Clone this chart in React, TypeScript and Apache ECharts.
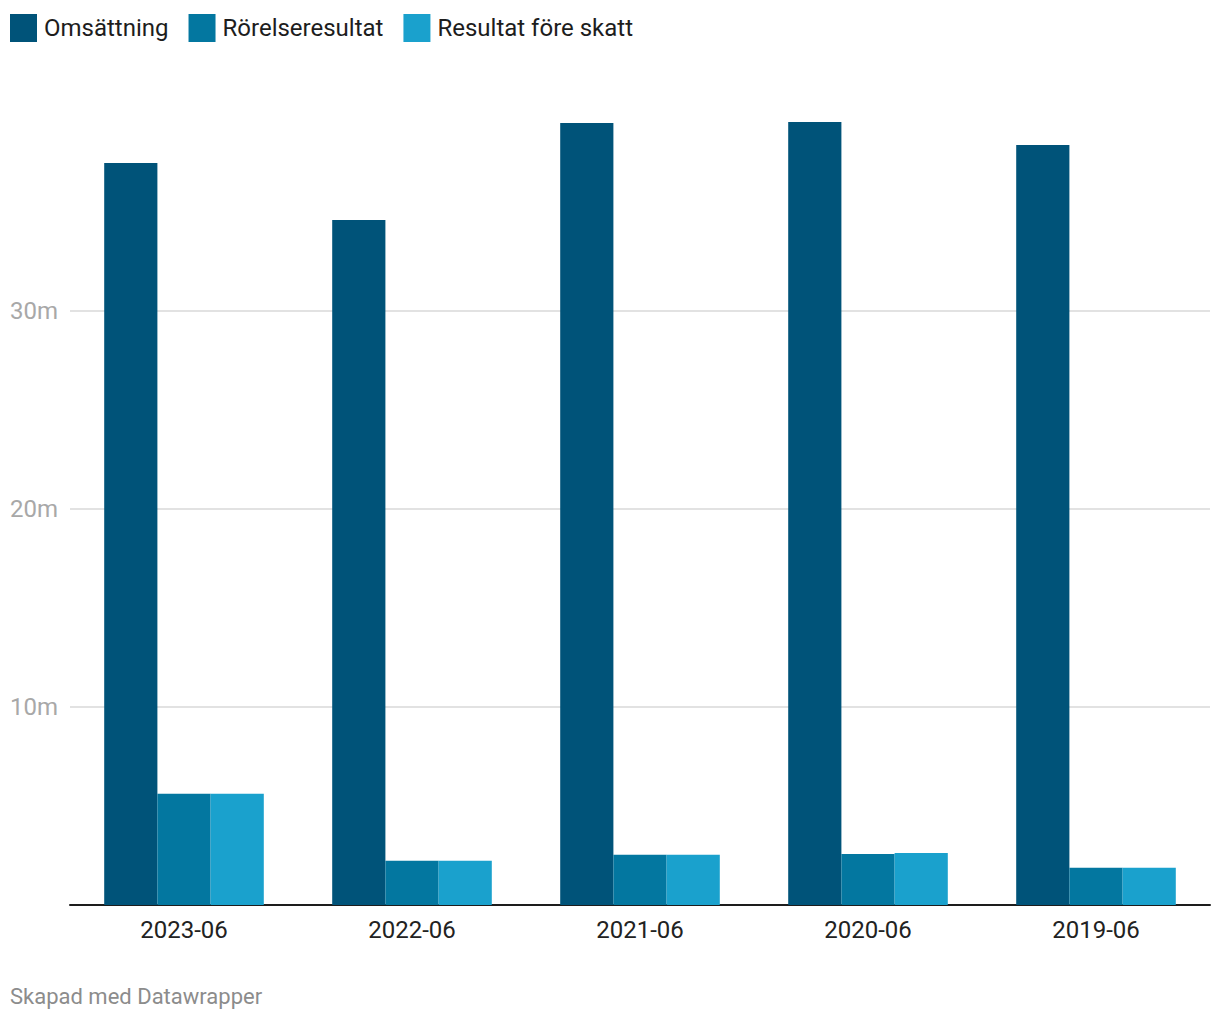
import React, { useEffect, useRef } from "react";
import * as echarts from "echarts";

const categories = ["2023-06", "2022-06", "2021-06", "2020-06", "2019-06"];
const omsattning = [37.47, 34.6, 39.49, 39.55, 38.38];
const rorelseresultat = [5.62, 2.24, 2.54, 2.58, 1.88];
const resultatForeSkatt = [5.62, 2.24, 2.54, 2.63, 1.88];
const seriesNames = ["Omsättning", "Rörelseresultat", "Resultat före skatt"];
const colors = ["#005379", "#0377a0", "#1aa1cd"];

const FONT = "Roboto, 'Noto Sans', sans-serif";

export default function App() {
  const ref = useRef<HTMLDivElement>(null);
  useEffect(() => {
    document.body.style.margin = "0";
    const chart = echarts.init(ref.current!, null, { renderer: "svg" });
    const values = [omsattning, rorelseresultat, resultatForeSkatt];
    chart.setOption({
      animation: false,
      textStyle: { fontFamily: FONT },
      legend: {
        left: 5,
        top: 9,
        itemWidth: 27,
        itemHeight: 28,
        itemGap: 20,
        icon: "rect",
        selectedMode: false,
        textStyle: { fontSize: 24, color: "#1d1d1d", fontFamily: FONT, padding: [0, 0, 0, 2] },
        data: seriesNames,
      },
      grid: { left: 70, right: 10, top: 113, bottom: 115 },
      xAxis: {
        type: "category",
        data: categories,
        axisLine: { show: true, lineStyle: { color: "#1d1d1d", width: 2 } },
        axisTick: { show: false },
        axisLabel: { fontSize: 24, color: "#222222", margin: 13, fontFamily: FONT },
      },
      yAxis: {
        type: "value",
        min: 0,
        max: 40,
        interval: 10,
        axisLine: { show: false },
        axisTick: { show: false },
        axisLabel: {
          showMinLabel: false,
          showMaxLabel: false,
          fontSize: 24,
          color: "#a8a8a8",
          margin: 12,
          fontFamily: FONT,
          formatter: (v: number) => `${v}m`,
        },
        splitLine: {
          show: true,
          lineStyle: {
            color: ["rgba(0,0,0,0)", "#e2e2e2", "#e2e2e2", "#e2e2e2", "rgba(0,0,0,0)"],
            width: 2,
          },
        },
      },
      series: seriesNames.map((name, i) => ({
        name,
        type: "bar",
        data: values[i],
        barGap: "0%",
        barCategoryGap: "30%",
        itemStyle: { color: colors[i] },
      })),
      graphic: [
        {
          type: "text",
          left: 10,
          top: 985,
          style: {
            text: "Skapad med Datawrapper",
            fontSize: 22,
            fill: "#8c8c8c",
            fontFamily: FONT,
          },
        },
      ],
    });
    return () => chart.dispose();
  }, []);
  return <div ref={ref} style={{ width: 1220, height: 1020 }} />;
}
